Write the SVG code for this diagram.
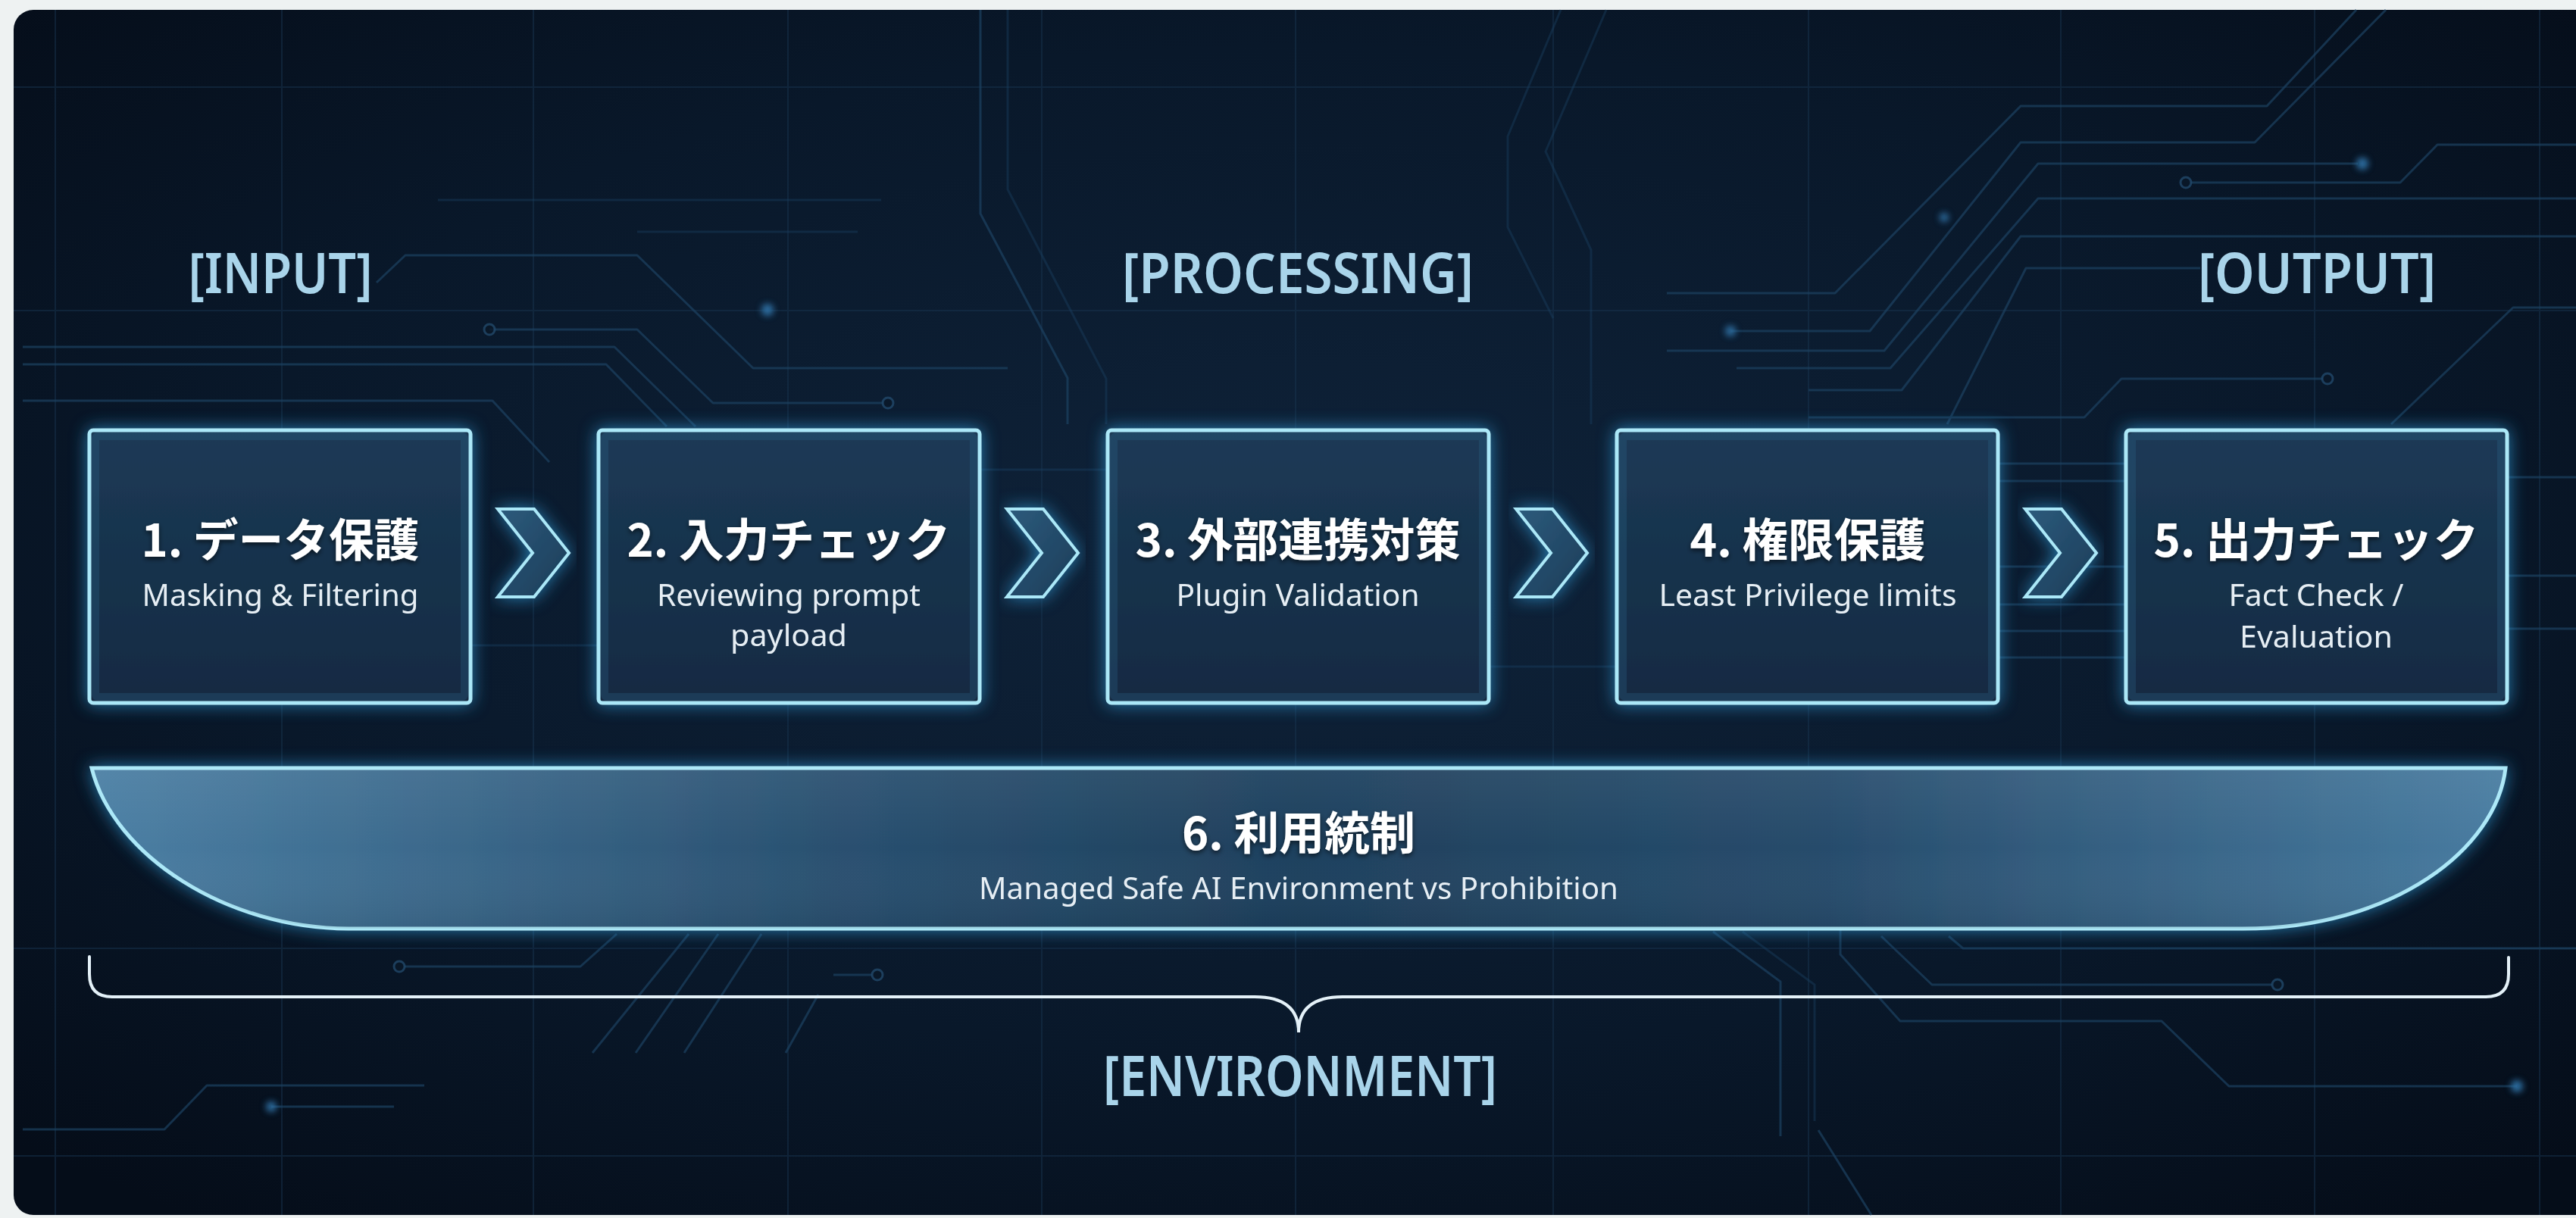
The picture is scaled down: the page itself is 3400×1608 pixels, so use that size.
<svg xmlns="http://www.w3.org/2000/svg" width="3400" height="1608" viewBox="0 0 3400 1608">
<defs>
<style>
.grid{stroke:#18344f;stroke-width:2;opacity:.5}
.trace{fill:none;stroke:#1d4262;stroke-width:3;opacity:.7;stroke-linejoin:round}
.tdot{fill:#0a1829;stroke:#22496b;stroke-width:3;opacity:.8}
.gdot{fill:#2f6fa3;filter:url(#soft)}
.box{fill:url(#boxg);stroke:#abe8f8;stroke-width:5;filter:url(#glow)}
.inner{fill:none;stroke:#2b6489;stroke-width:10;opacity:.3}
.chev{fill:url(#chevg);stroke:#abe8f8;stroke-width:4;stroke-linejoin:miter;filter:url(#glow)}
.title{font-family:"Noto Sans CJK JP","Noto Sans",sans-serif;font-weight:700;font-size:60px;fill:#ffffff;text-anchor:middle;filter:url(#tshadow)}
.sub{font-family:"Noto Sans","Liberation Sans",sans-serif;font-size:40px;fill:#e6eef4;text-anchor:middle}
.label{font-family:"Noto Sans","Liberation Sans",sans-serif;font-weight:600;font-size:74px;fill:#a9d4ea;text-anchor:middle}
.brace{fill:none;stroke:#e4f1f8;stroke-width:4;stroke-linecap:round}
</style>
<radialGradient id="bg" cx="0.5" cy="0.45" r="0.7">
<stop offset="0" stop-color="#0f233a"/>
<stop offset="0.6" stop-color="#09182a"/>
<stop offset="1" stop-color="#050d19"/>
</radialGradient>
<linearGradient id="boxg" x1="0" y1="0" x2="0" y2="1">
<stop offset="0" stop-color="#1c3a56"/>
<stop offset="1" stop-color="#132a42"/>
</linearGradient>
<linearGradient id="chevg" x1="0" y1="0" x2="1" y2="1">
<stop offset="0" stop-color="#2d5b7c"/>
<stop offset="1" stop-color="#1a3b58"/>
</linearGradient>
<linearGradient id="bandg" x1="0" y1="0" x2="1" y2="0">
<stop offset="0" stop-color="#4b7fa4"/>
<stop offset="0.3" stop-color="#2a5171"/>
<stop offset="0.5" stop-color="#1e405d"/>
<stop offset="0.72" stop-color="#274c6c"/>
<stop offset="1" stop-color="#487ca1"/>
</linearGradient>
<linearGradient id="bandv" x1="0" y1="0" x2="0" y2="1">
<stop offset="0" stop-color="#ffffff" stop-opacity="0.06"/>
<stop offset="0.5" stop-color="#ffffff" stop-opacity="0"/>
<stop offset="1" stop-color="#000000" stop-opacity="0.08"/>
</linearGradient>
<filter id="glow" x="-10%" y="-30%" width="120%" height="160%">
<feGaussianBlur in="SourceAlpha" stdDeviation="11" result="b"/>
<feFlood flood-color="#2f9ad6" flood-opacity="0.75"/>
<feComposite in2="b" operator="in" result="g"/>
<feMerge><feMergeNode in="g"/><feMergeNode in="SourceGraphic"/></feMerge>
</filter>
<filter id="soft" x="-200%" y="-200%" width="500%" height="500%">
<feGaussianBlur stdDeviation="4"/>
</filter>
<filter id="tshadow" x="-10%" y="-30%" width="120%" height="160%">
<feDropShadow dx="0" dy="3" stdDeviation="3" flood-color="#000000" flood-opacity="0.6"/>
</filter>
</defs>

<rect x="0" y="0" width="3400" height="1608" fill="#eef2f2"/>
<rect x="18" y="13" width="3420" height="1591" rx="26" fill="url(#bg)"/>

<g id="background">
<g class="grid">
<line x1="73" y1="13" x2="73" y2="1604"/>
<line x1="372" y1="13" x2="372" y2="1604"/>
<line x1="704" y1="13" x2="704" y2="1604"/>
<line x1="1040" y1="13" x2="1040" y2="1604"/>
<line x1="1375" y1="13" x2="1375" y2="1604"/>
<line x1="1710" y1="13" x2="1710" y2="1604"/>
<line x1="2050" y1="13" x2="2050" y2="1604"/>
<line x1="2387" y1="13" x2="2387" y2="1604"/>
<line x1="2720" y1="13" x2="2720" y2="1604"/>
<line x1="3055" y1="13" x2="3055" y2="1604"/>
<line x1="3352" y1="13" x2="3352" y2="1604"/>
<line x1="18" y1="115" x2="3400" y2="115"/>
<line x1="18" y1="410" x2="3400" y2="410"/>
<line x1="18" y1="1252" x2="3400" y2="1252"/>
<line x1="18" y1="1526" x2="3400" y2="1526"/>
</g>
<g class="trace">
<path d="M497,373 L535,337 L841,337 L994,486 L1330,486"/>
<path d="M646,435 L841,435 L941,532 L1166,532"/>
<path d="M30,458 L811,458 L918,563"/>
<path d="M30,481 L800,481 L880,563"/>
<path d="M30,529 L650,529 L725,610"/>
<path d="M578,264 L1163,264" opacity=".6"/>
<path d="M841,306 L1132,306" opacity=".6"/>
<path d="M1294,13 L1294,282 L1409,499 L1409,560"/>
<path d="M1330,13 L1330,250 L1460,500 L1460,560" opacity=".6"/>
<path d="M2060,13 L1990,180 L1990,300 L2050,420" opacity=".6"/>
<path d="M2120,13 L2040,200 L2100,330 L2100,560" opacity=".6"/>
<path d="M2200,387 L2422,387 L2667,140 L2992,140 L3110,13"/>
<path d="M2284,437 L2468,437 L2667,188 L2976,188 L3149,13"/>
<path d="M2200,463 L2487,463 L2690,216 L3112,216"/>
<path d="M2292,486 L2495,486 L2690,262 L3400,262"/>
<path d="M2387,515 L2510,515 L2667,312 L3400,312"/>
<path d="M2904,354 L2674,354 L2570,560"/>
<path d="M2387,551 L2751,551 L2800,500 L3066,500"/>
<path d="M2891,241 L3168,241 L3217,191 L3400,191"/>
<path d="M3156,560 L3317,406 L3400,406"/>
<path d="M620,852 L790,852" opacity=".6"/>
<path d="M1292,620 L1462,620" opacity=".6"/>
<path d="M1965,880 L2134,880" opacity=".6"/>
<path d="M2637,612 L2806,612"/>
<path d="M2637,635 L2806,635"/>
<path d="M2637,748 L2806,748"/>
<path d="M2637,798 L2806,798"/>
<path d="M2637,833 L2806,833"/>
<path d="M2637,868 L2806,868"/>
<path d="M3309,630 L3400,630"/>
<path d="M3309,760 L3400,760"/>
<path d="M3309,830 L3400,830"/>
<path d="M30,1491 L217,1491 L273,1433 L560,1433"/>
<path d="M358,1461 L520,1461"/>
<path d="M534,1276 L766,1276 L814,1233"/>
<path d="M782,1390 L909,1233"/>
<path d="M839,1390 L948,1233"/>
<path d="M903,1390 L1005,1233"/>
<path d="M1037,1390 L1080,1313"/>
<path d="M1100,1287 L1151,1287"/>
<path d="M2261,1230 L2350,1296 L2350,1500"/>
<path d="M2300,1230 L2395,1300 L2395,1480" opacity=".6"/>
<path d="M2483,1236 L2550,1300 L2999,1300"/>
<path d="M2429,1228 L2429,1260 L2508,1348 L2853,1348 L2942,1434 L3322,1434"/>
<path d="M2572,1236 L2591,1252 L3400,1252"/>
<path d="M2400,1492 L2470,1604"/>
</g>
<circle class="tdot" cx="646" cy="435" r="7"/>
<circle class="tdot" cx="1172" cy="532" r="7"/>
<circle class="tdot" cx="2885" cy="241" r="7"/>
<circle class="tdot" cx="3072" cy="500" r="7"/>
<circle class="tdot" cx="527" cy="1276" r="7"/>
<circle class="tdot" cx="1158" cy="1287" r="7"/>
<circle class="tdot" cx="3006" cy="1300" r="7"/>
<circle class="gdot" cx="2284" cy="437" r="7"/>
<circle class="gdot" cx="3118" cy="216" r="8"/>
<circle class="gdot" cx="1013" cy="409" r="8"/>
<circle class="gdot" cx="358" cy="1461" r="7"/>
<circle class="gdot" cx="3322" cy="1434" r="8"/>
<circle class="gdot" cx="2566" cy="287" r="6"/>
</g>

<g id="label-input"><text class="label" x="370" y="387" textLength="243" lengthAdjust="spacingAndGlyphs">[INPUT]</text></g>
<g id="label-processing"><text class="label" x="1713" y="387" textLength="464" lengthAdjust="spacingAndGlyphs">[PROCESSING]</text></g>
<g id="label-output"><text class="label" x="3058" y="387" textLength="314" lengthAdjust="spacingAndGlyphs">[OUTPUT]</text></g>

<g id="node-6">
<path class="box" style="fill:url(#bandg)" d="M121,1014 L3307,1014 C3295,1120 3160,1226 2960,1226 L460,1226 C300,1226 150,1130 121,1014 Z"/>
<path d="M121,1014 L3307,1014 C3295,1120 3160,1226 2960,1226 L460,1226 C300,1226 150,1130 121,1014 Z" fill="url(#bandv)"/>
<text class="title" x="1714" y="1122" textLength="308" lengthAdjust="spacingAndGlyphs">6. 利用統制</text>
<text class="sub" x="1714" y="1187" textLength="844" lengthAdjust="spacingAndGlyphs">Managed Safe AI Environment vs Prohibition</text>
</g>

<g id="node-1">
<rect class="box" x="118" y="568" width="503" height="360" rx="5"/>
<rect class="inner" x="126" y="576" width="487" height="344" rx="3"/>
<text class="title" x="370" y="735" textLength="367" lengthAdjust="spacingAndGlyphs">1. データ保護</text>
<text class="sub" x="370" y="800" textLength="365" lengthAdjust="spacingAndGlyphs">Masking &amp; Filtering</text>
</g>
<g id="node-2">
<rect class="box" x="790" y="568" width="503" height="360" rx="5"/>
<rect class="inner" x="798" y="576" width="487" height="344" rx="3"/>
<text class="title" x="1041" y="735" textLength="427" lengthAdjust="spacingAndGlyphs">2. 入力チェック</text>
<text class="sub" x="1041" y="800" textLength="348" lengthAdjust="spacingAndGlyphs">Reviewing prompt</text>
<text class="sub" x="1041" y="853" textLength="154" lengthAdjust="spacingAndGlyphs">payload</text>
</g>
<g id="node-3">
<rect class="box" x="1462" y="568" width="503" height="360" rx="5"/>
<rect class="inner" x="1470" y="576" width="487" height="344" rx="3"/>
<text class="title" x="1713" y="735" textLength="429" lengthAdjust="spacingAndGlyphs">3. 外部連携対策</text>
<text class="sub" x="1713" y="800" textLength="321" lengthAdjust="spacingAndGlyphs">Plugin Validation</text>
</g>
<g id="node-4">
<rect class="box" x="2134" y="568" width="503" height="360" rx="5"/>
<rect class="inner" x="2142" y="576" width="487" height="344" rx="3"/>
<text class="title" x="2386" y="735" textLength="311" lengthAdjust="spacingAndGlyphs">4. 権限保護</text>
<text class="sub" x="2386" y="800" textLength="393" lengthAdjust="spacingAndGlyphs">Least Privilege limits</text>
</g>
<g id="node-5">
<rect class="box" x="2806" y="568" width="503" height="360" rx="5"/>
<rect class="inner" x="2814" y="576" width="487" height="344" rx="3"/>
<text class="title" x="3057" y="735" textLength="429" lengthAdjust="spacingAndGlyphs">5. 出力チェック</text>
<text class="sub" x="3057" y="800" textLength="231" lengthAdjust="spacingAndGlyphs">Fact Check /</text>
<text class="sub" x="3057" y="855" textLength="202" lengthAdjust="spacingAndGlyphs">Evaluation</text>
</g>

<g id="connectors">
<polygon class="chev" points="657,672 705,672 751,730 705,788 657,788 703,730"/>
<polygon class="chev" points="1329,672 1377,672 1423,730 1377,788 1329,788 1375,730"/>
<polygon class="chev" points="2001,672 2049,672 2095,730 2049,788 2001,788 2047,730"/>
<polygon class="chev" points="2673,672 2721,672 2767,730 2721,788 2673,788 2719,730"/>
</g>

<g id="environment-brace">
<path class="brace" d="M118,1263 L118,1286 Q118,1316 148,1316 L1656,1316 Q1714,1316 1714,1363 Q1714,1316 1772,1316 L3281,1316 Q3311,1316 3311,1286 L3311,1264"/>
<text class="label" x="1716" y="1447" textLength="520" lengthAdjust="spacingAndGlyphs">[ENVIRONMENT]</text>
</g>
</svg>
